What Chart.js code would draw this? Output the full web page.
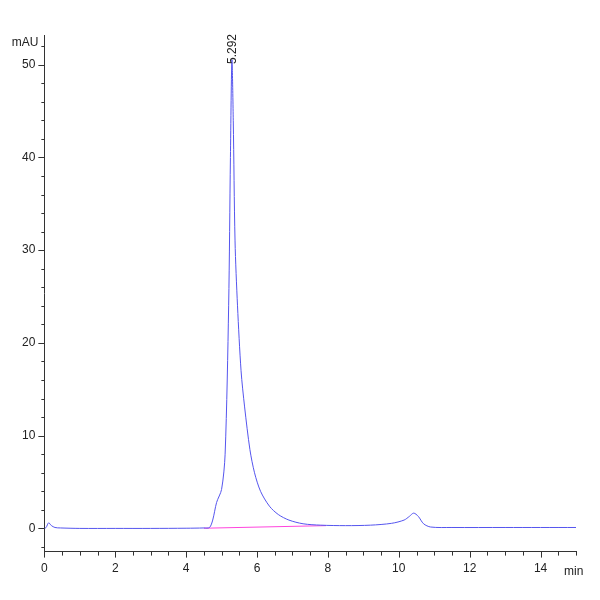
<!DOCTYPE html>
<html>
<head>
<meta charset="utf-8">
<script src="https://cdn.jsdelivr.net/npm/chart.js@4"></script>
<style>
html, body { margin: 0; background: #fff; }
#wrap { width: 600px; height: 600px; }
</style>
</head>
<body>
<div id="wrap"><canvas id="grafico"></canvas></div>
<script>
// Tiempo de retención (min) y señal (mAU)
const tiempos = [0, 0.05, 0.12, 0.2, 0.3, 0.45, 1, 2, 3, 4, 4.5, 4.66, 4.75, 4.86, 5.0, 5.1, 5.2, 5.25, 5.292, 5.33, 5.38, 5.45, 5.55, 5.65, 5.8, 5.93, 6.1, 6.35, 6.6, 6.9, 7.3, 7.8, 8.5, 9.2, 9.8, 10.15, 10.3, 10.42, 10.55, 10.7, 10.9, 11.5, 13, 15];
const senal   = [0, 0.1, 0.6, 0.3, 0.1, 0.05, 0, 0, 0, 0.02, 0.05, 0.1, 0.9, 2.8, 4.2, 8, 24, 40, 50.5, 44, 31, 24, 17, 13.1, 8.5, 6, 4, 2.4, 1.5, 0.9, 0.5, 0.35, 0.3, 0.35, 0.55, 0.9, 1.3, 1.65, 1.3, 0.5, 0.15, 0.1, 0.1, 0.1];
// Línea base de integración
const baseX = [4.5, 7.95];
const baseY = [0.02, 0.3];
const picoX = 5.292, picoY = 50.5, picoTexto = '5.292';

const pts = (xs, ys) => xs.map((x, i) => ({ x: x, y: ys[i] }));

// Etiquetas y marcas menores
const extras = {
  id: 'extras',
  afterDraw(chart) {
    const { ctx, scales: { x, y } } = chart;
    ctx.save();
    ctx.strokeStyle = '#333';
    ctx.lineWidth = 1;
    for (let v = 0; v <= 15; v += 0.5) {
      const px = Math.round(x.getPixelForValue(v)) + 0.5;
      ctx.beginPath(); ctx.moveTo(px, y.bottom); ctx.lineTo(px, y.bottom + (v % 2 === 0 ? 6 : 4)); ctx.stroke();
    }
    for (let v = -2; v <= 52; v += 2) {
      const py = Math.round(y.getPixelForValue(v)) + 0.5;
      ctx.beginPath(); ctx.moveTo(x.left, py); ctx.lineTo(x.left - (v % 10 === 0 ? 6 : 3), py); ctx.stroke();
    }
    ctx.fillStyle = '#222';
    ctx.font = '12px "Liberation Sans", Arial';
    ctx.textAlign = 'right'; ctx.textBaseline = 'middle';
    ctx.fillText('mAU', x.left - 6, y.top + 8);
    ctx.textAlign = 'left';
    ctx.fillText('min', x.right - 12, y.bottom + 20);
    // Etiqueta del pico
    ctx.translate(x.getPixelForValue(picoX) + 1, y.getPixelForValue(picoY) + 4);
    ctx.rotate(-Math.PI / 2);
    ctx.textAlign = 'left'; ctx.textBaseline = 'middle';
    ctx.fillText(picoTexto, 0, 0);
    ctx.restore();
  }
};

new Chart(document.getElementById('grafico'), {
  type: 'line',
  data: {
    datasets: [
      { data: pts(tiempos, senal), borderColor: '#5555ee', borderWidth: 1, pointRadius: 0, tension: 0.3, fill: false },
      { data: pts(baseX, baseY), borderColor: '#ff44dd', borderWidth: 1, pointRadius: 0, fill: false }
    ]
  },
  options: {
    responsive: true,
    maintainAspectRatio: false,
    animation: false,
    layout: { padding: { top: 35, right: 24, bottom: 14, left: 13 } },
    plugins: { legend: { display: false }, tooltip: { enabled: false } },
    scales: {
      x: {
        type: 'linear', min: 0, max: 15,
        grid: { display: false, drawTicks: false },
        border: { color: '#333' },
        ticks: { stepSize: 2, padding: 10, color: '#222', font: { size: 12, family: '"Liberation Sans", Arial' },
                 callback: v => (v < 15 ? v : '') }
      },
      y: {
        min: -2.5, max: 53.2,
        grid: { display: false, drawTicks: false },
        border: { color: '#333' },
        afterBuildTicks: ax => { ax.ticks = [0, 10, 20, 30, 40, 50].map(v => ({ value: v })); },
        ticks: { padding: 9, color: '#222', font: { size: 12, family: '"Liberation Sans", Arial' } }
      }
    }
  },
  plugins: [extras]
});
</script>
</body>
</html>
